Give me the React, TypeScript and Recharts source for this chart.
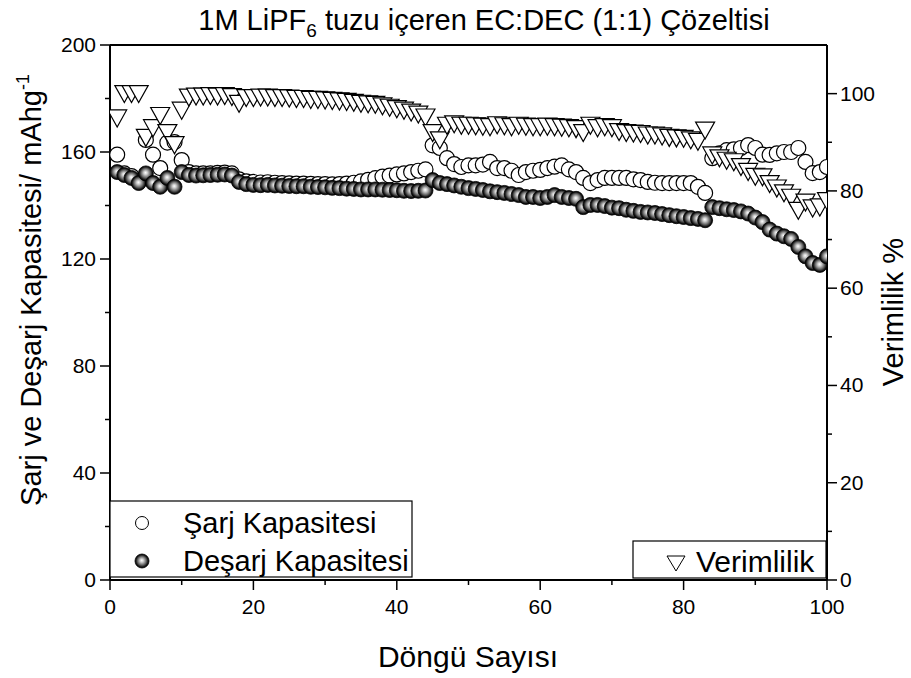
import React from "react";
import { ScatterChart, Scatter, XAxis, YAxis, ReferenceLine } from "recharts";

// cycle numbers 1..100
const CYCLES = Array.from({ length: 100 }, (_, i) => i + 1);

// charge capacity, mAh/g
const CHARGE = [
  159, 152, 151, 149, 164.5, 159, 154, 163.5, 163.7, 157,
  152.5, 152, 152, 152, 152.2, 152.3, 152, 149.8, 149, 148.8,
  148.6, 148.7, 148.5, 148.4, 148.3, 148.2, 148.2, 148.1, 148, 148,
  147.9, 148, 148.2, 148.5, 149, 149.6, 150.2, 150.8, 151.2, 151.6,
  152, 152.5, 153, 153.5, 162.5, 161.5, 157.7, 155.5, 154.4, 155,
  155, 155.3, 156.3, 154, 154, 153, 151.4, 152.5, 153, 153.3,
  154, 154.5, 155, 153.5, 152.5, 150.3, 148.4, 149.5, 150.3, 150.3,
  150.3, 150.3, 149.8, 149.5, 148.8, 148.5, 148.4, 148.4, 148.4, 148.4,
  148.4, 147, 144.7, 157.7, 159.5, 160.7, 161, 161.5, 162.6, 161.5,
  159, 158.9, 159.5, 160, 160, 161.5, 156.3, 152.1, 152.5, 154.4,
];

// discharge capacity, mAh/g
const DISCHARGE = [
  152.5, 151.4, 150.3, 148.4, 152, 148.4, 147, 150.3, 147, 152.5,
  151.4, 151.2, 151.3, 151.4, 151.5, 151.6, 151.2, 148.8, 148, 147.7,
  147.6, 147.7, 147.5, 147.4, 147.3, 147.2, 147.2, 147, 146.9, 146.8,
  146.6, 146.5, 146.3, 146.2, 146, 146, 146, 145.9, 145.8, 145.7,
  145.5, 145.4, 145.5, 145.6, 149.5, 148.4, 148, 147.5, 147, 146.5,
  146.2, 145.8, 145.3, 145, 144.7, 144.3, 143.9, 143.2, 143.2, 142.8,
  143.2, 143.9, 143.2, 142.8, 142.5, 139.4, 140.2, 140.2, 139.8, 139.2,
  139, 138.4, 138, 137.6, 137.4, 137.2, 136.8, 136.4, 136, 135.7,
  135.3, 135, 134.5, 139.4, 139, 138.6, 138.3, 137.8, 137, 135.5,
  133.8, 131, 129.5, 128.5, 127.5, 124.5, 121, 118.5, 117.8, 121,
];

// coulombic efficiency, %
const EFFICIENCY = [
  95, 100, 100, 100, 91, 93, 95.5, 92, 89.5, 96.6,
  99.3, 99.5, 99.5, 99.6, 99.5, 99.6, 99.4, 98, 99.2, 99.2,
  99.3, 99.3, 99.2, 99.2, 99.1, 99, 99, 98.8, 98.8, 98.7,
  98.6, 98.5, 98.4, 98.2, 98, 97.9, 97.8, 97.5, 97.2, 96.9,
  96.6, 96.2, 95.8, 95.2, 92, 90.5, 93.5, 93.8, 93.5, 93.5,
  93.4, 93.3, 93.2, 93.6, 93.4, 93.2, 93.5, 93.3, 93.2, 93.2,
  93.3, 93.2, 93.1, 93, 92.8, 92, 93.5, 93, 93.2, 93,
  92.2, 92, 91.9, 91.8, 91.5, 91.5, 91.3, 91, 90.9, 90.8,
  90.5, 90.2, 92.5, 87.4, 86.8, 86.3, 86, 85, 84, 83,
  82.9, 81.5, 80.6, 79.6, 78.7, 76, 77.7, 76.5, 76.7, 78,
];

const X_TICKS = [0, 10, 20, 30, 40, 50, 60, 70, 80, 90, 100];
const LEFT_TICKS = [0, 20, 40, 60, 80, 100, 120, 140, 160, 180, 200];
const RIGHT_TICKS = [0, 10, 20, 30, 40, 50, 60, 70, 80, 90, 100];

const FONT = "Arial, 'Liberation Sans', sans-serif";

const chargeData = CYCLES.map((x, i) => ({ x, y: CHARGE[i] }));
const dischargeData = CYCLES.map((x, i) => ({ x, y: DISCHARGE[i] }));
const effData = CYCLES.map((x, i) => ({ x, y: EFFICIENCY[i] }));

function XTick({ x, y, payload }: any) {
  const major = payload.value % 20 === 0;
  return (
    <g>
      <line x1={x} x2={x} y1={y} y2={y + (major ? 10 : 5)} stroke="#000" strokeWidth={1.5} />
      {major && (
        <text x={x} y={y + 34} textAnchor="middle" fontSize={21} fontFamily={FONT} fill="#000">
          {payload.value}
        </text>
      )}
    </g>
  );
}

function LeftTick({ x, y, payload }: any) {
  const major = payload.value % 40 === 0;
  return (
    <g>
      <line x1={x - (major ? 10 : 5)} x2={x} y1={y} y2={y} stroke="#000" strokeWidth={1.5} />
      {major && (
        <text x={x - 14} y={y + 7} textAnchor="end" fontSize={21} fontFamily={FONT} fill="#000">
          {payload.value}
        </text>
      )}
    </g>
  );
}

function RightTick({ x, y, payload }: any) {
  const major = payload.value % 20 === 0;
  return (
    <g>
      <line x1={x} x2={x + (major ? 10 : 5)} y1={y} y2={y} stroke="#000" strokeWidth={1.5} />
      {major && (
        <text x={x + 13} y={y + 7} textAnchor="start" fontSize={21} fontFamily={FONT} fill="#000">
          {payload.value}
        </text>
      )}
    </g>
  );
}

const openCircle = (p: any) => (
  <circle cx={p.cx} cy={p.cy} r={7.5} fill="#fff" stroke="#000" strokeWidth={1.2} />
);

const sphere = (p: any) => (
  <circle cx={p.cx} cy={p.cy} r={7.5} fill="url(#sph)" stroke="#000" strokeWidth={0.8} />
);

const triangle = (p: any) => (
  <polygon
    points={`${p.cx - 9.5},${p.cy - 8} ${p.cx + 9.5},${p.cy - 8} ${p.cx},${p.cy + 9}`}
    fill="#fff"
    stroke="#000"
    strokeWidth={1.2}
  />
);

export default function App() {
  return (
    <div style={{ position: "absolute", left: 0, top: 0, width: 911, height: 678, background: "#fff" }}>
      <svg width={0} height={0} style={{ position: "absolute" }}>
        <defs>
          <radialGradient id="sph" cx="50%" cy="50%" r="50%" fx="48%" fy="45%">
            <stop offset="0%" stopColor="#ffffff" />
            <stop offset="25%" stopColor="#cccccc" />
            <stop offset="60%" stopColor="#6a6a6a" />
            <stop offset="85%" stopColor="#181818" />
            <stop offset="100%" stopColor="#000" />
          </radialGradient>
        </defs>
      </svg>
      <ScatterChart width={911} height={678} margin={{ top: 45, right: 0, bottom: 0, left: 0 }}>
        <XAxis
          type="number"
          dataKey="x"
          domain={[0, 100]}
          ticks={X_TICKS}
          interval={0}
          height={98}
          tickSize={0}
          tickMargin={0}
          tickLine={false}
          tick={<XTick />}
          axisLine={{ stroke: "#000", strokeWidth: 2 }}
          allowDataOverflow
        />
        <YAxis
          yAxisId="left"
          type="number"
          dataKey="y"
          domain={[0, 200]}
          ticks={LEFT_TICKS}
          interval={0}
          width={110}
          tickSize={0}
          tickMargin={0}
          tickLine={false}
          tick={<LeftTick />}
          axisLine={{ stroke: "#000", strokeWidth: 2 }}
        />
        <YAxis
          yAxisId="right"
          orientation="right"
          type="number"
          dataKey="y"
          domain={[0, 110]}
          ticks={RIGHT_TICKS}
          interval={0}
          width={84}
          tickSize={0}
          tickMargin={0}
          tickLine={false}
          tick={<RightTick />}
          axisLine={{ stroke: "#000", strokeWidth: 2 }}
        />
        <ReferenceLine yAxisId="left" y={200} stroke="#000" strokeWidth={2} />
        <Scatter yAxisId="left" data={chargeData} shape={openCircle} isAnimationActive={false} />
        <Scatter yAxisId="right" data={effData} shape={triangle} isAnimationActive={false} />
        <Scatter yAxisId="left" data={dischargeData} shape={sphere} isAnimationActive={false} />
      </ScatterChart>

      <svg
        width={911}
        height={678}
        style={{ position: "absolute", left: 0, top: 0, pointerEvents: "none" }}
        fontFamily={FONT}
      >
        <text x={484} y={30} textAnchor="middle" fontSize={29}>
          1M LiPF<tspan fontSize={19} dy={7}>6</tspan>
          <tspan dy={-7}> tuzu içeren EC:DEC (1:1) Çözeltisi</tspan>
        </text>

        <text x={468} y={667} textAnchor="middle" fontSize={30}>
          Döngü Sayısı
        </text>

        <text transform="translate(41,290) rotate(-90)" textAnchor="middle" fontSize={29}>
          Şarj ve Deşarj Kapasitesi/ mAhg<tspan fontSize={18} dy={-12}>-1</tspan>
        </text>

        <text transform="translate(903,312) rotate(-90)" textAnchor="middle" fontSize={29}>
          Verimlilik %
        </text>

        <rect x={110} y={501} width={302} height={76} fill="#fff" stroke="#000" strokeWidth={1.2} />
        <circle cx={142} cy={523} r={6.5} fill="#fff" stroke="#000" strokeWidth={1} />
        <text x={183} y={533} fontSize={29}>Şarj Kapasitesi</text>
        <circle cx={142} cy={561} r={7} fill="url(#sph)" stroke="#000" strokeWidth={0.8} />
        <text x={183} y={571} fontSize={29}>Deşarj Kapasitesi</text>

        <rect x={633} y={541} width={193} height={37} fill="#fff" stroke="#000" strokeWidth={1.2} />
        <polygon points="667,556 685,556 676,571" fill="#fff" stroke="#000" strokeWidth={1} />
        <text x={696} y={572} fontSize={30}>Verimlilik</text>
      </svg>
    </div>
  );
}
